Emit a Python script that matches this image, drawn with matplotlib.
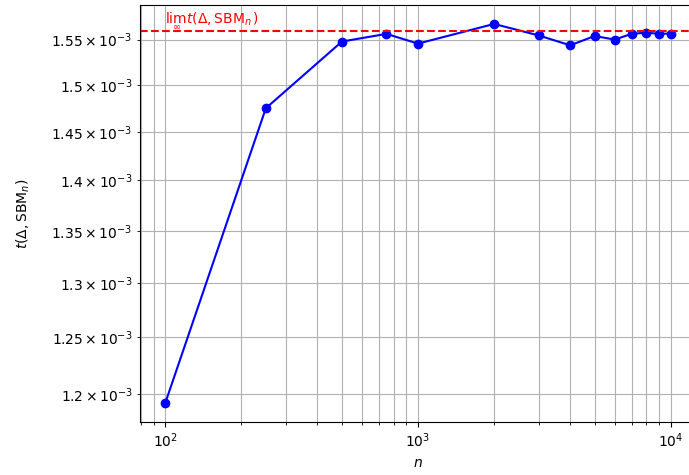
import numpy as np
import matplotlib
matplotlib.use("Agg")
import matplotlib.pyplot as plt

# sizes of the SBM graphs and the measured values
n_values = [100, 250, 500, 750, 1000, 2000, 3000, 4000, 5000, 6000, 7000, 8000, 9000, 10000]
t_values = [1.192e-3, 1.475e-3, 1.5478e-3, 1.5564e-3, 1.5455e-3, 1.5676e-3, 1.5547e-3,
            1.5436e-3, 1.5540e-3, 1.5500e-3, 1.5564e-3, 1.5578e-3, 1.5564e-3, 1.5568e-3]
t_limit = 1.5592e-3

fig = plt.figure(figsize=(6.89, 4.75), dpi=100)
ax = fig.add_axes([140 / 689, 53 / 475, 556 / 689, 417 / 475])

ax.loglog(n_values, t_values, 'bo-')
ax.axhline(t_limit, color='r', linestyle='--')
ax.text(n_values[0], t_limit, r'$\lim_{\infty} t(\Delta, \mathrm{SBM}_n)$', color='r', va='bottom')

ax.set_xlabel(r'$n$')
ax.set_ylabel(r'$t(\Delta, \mathrm{SBM}_n)$', labelpad=14)
ax.grid(True, which='both')

fig.savefig('out.png', dpi=100)
